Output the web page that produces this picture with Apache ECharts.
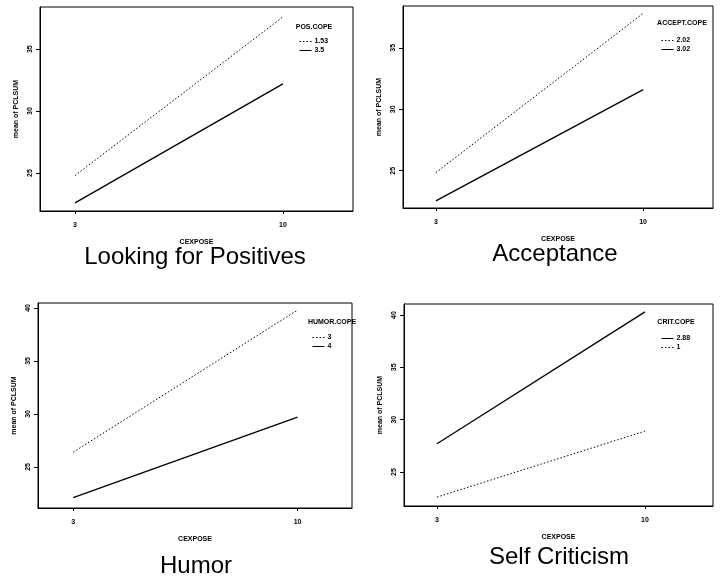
<!DOCTYPE html>
<html>
<head>
<meta charset="UTF-8">
<title>PCLSUM by CEXPOSE and coping</title>
<script src="https://cdn.jsdelivr.net/npm/echarts@6/dist/echarts.min.js"></script>
</head>
<body style="margin:0;background:#fff">
<div id="main" style="width:720px;height:581px;"></div>
<script type="text/javascript">
    // x values (CEXPOSE) shared by all four panels
    var cexpose = [3, 10];
    var titles = ['Looking for Positives', 'Acceptance', 'Humor', 'Self Criticism'];
    var copeNames = ['POS.COPE', 'ACCEPT.COPE', 'HUMOR.COPE', 'CRIT.COPE'];

    var posLevels = ['1.53', '3.5'];
    var posValues = [[24.8, 37.6], [22.6, 32.2]];
    var acceptLevels = ['2.02', '3.02'];
    var acceptValues = [[24.85, 37.8], [22.55, 31.6]];
    var humorLevels = ['3', '4'];
    var humorValues = [[26.4, 39.8], [22.1, 29.7]];
    var critLevels = ['2.88', '1'];
    var critValues = [[27.7, 40.3], [22.6, 28.9]];

    var yTicks = [[25, 30, 35], [25, 30, 35], [25, 30, 35, 40], [25, 30, 35, 40]];

    var levels = [posLevels, acceptLevels, humorLevels, critLevels];
    var values = [posValues, acceptValues, humorValues, critValues];
    var dotted = [[true, false], [true, false], [true, false], [false, true]];

    // panel boxes: left, top, width, height, x range, y range
    var boxes = [
        {l: 40, t: 7, w: 313, h: 204, x: [1.82, 12.36], y: [21.94, 38.4]},
        {l: 403, t: 6, w: 310, h: 202, x: [1.89, 12.36], y: [21.97, 38.4]},
        {l: 38, t: 303, w: 314, h: 205, x: [1.9, 11.7], y: [21.13, 40.47]},
        {l: 404, t: 304, w: 309, h: 202, x: [1.89, 12.29], y: [21.75, 41.05]}
    ];
    var legendPos = [[299, 38], [661, 37], [312, 334], [661, 335]];
    var headPos = [[314, 27], [682, 23], [332, 322], [676, 322]];
    var titlePos = [[195, 257], [555, 254], [196, 566], [559, 557]];

    var small = {fontSize: 7, fontWeight: 'bold', color: '#000', fontFamily: 'Liberation Sans'};

    var grid = [], xAxis = [], yAxis = [], series = [], legend = [], graphic = [];

    boxes.forEach(function (b, i) {
        grid.push({
            left: b.l, top: b.t, width: b.w, height: b.h,
            show: true, borderColor: '#000', borderWidth: 1, backgroundColor: '#fff'
        });
        xAxis.push({
            type: 'value', gridIndex: i, min: b.x[0], max: b.x[1],
            name: 'CEXPOSE', nameLocation: 'middle', nameGap: 28, nameTextStyle: small,
            axisLine: {lineStyle: {color: '#000'}},
            axisTick: {customValues: cexpose, length: 3, lineStyle: {color: '#000'}},
            axisLabel: {customValues: cexpose, margin: 11, fontSize: 7, fontWeight: 'bold', color: '#000'},
            splitLine: {show: false}
        });
        yAxis.push({
            type: 'value', gridIndex: i, min: b.y[0], max: b.y[1],
            name: 'mean of PCLSUM', nameLocation: 'middle', nameGap: 20, nameRotate: 90,
            nameTextStyle: small,
            axisLine: {lineStyle: {color: '#000'}},
            axisTick: {customValues: yTicks[i], length: 4, lineStyle: {color: '#000'}},
            axisLabel: {customValues: yTicks[i], rotate: 90, margin: 6, fontSize: 7, fontWeight: 'bold', color: '#000'},
            splitLine: {show: false}
        });
        levels[i].forEach(function (lv, k) {
            series.push({
                name: lv, type: 'line', xAxisIndex: i, yAxisIndex: i,
                data: cexpose.map(function (x, j) { return [x, values[i][k][j]]; }),
                symbol: 'none', silent: true,
                lineStyle: {color: '#000', width: dotted[i][k] ? 1 : 1.3, type: dotted[i][k] ? [1.5, 2] : 'solid'},
                itemStyle: {color: '#000'}
            });
        });
        legend.push({
            data: levels[i], orient: 'vertical', left: legendPos[i][0], top: legendPos[i][1],
            itemWidth: 12, itemHeight: 6, itemGap: 2, padding: 0, selectedMode: false,
            itemStyle: {opacity: 0},
            lineStyle: {width: 1},
            textStyle: {fontSize: 7, fontWeight: 'bold', color: '#000', padding: [0, 0, 0, -2]}
        });
        graphic.push({
            type: 'text', x: headPos[i][0], y: headPos[i][1],
            style: {text: copeNames[i], font: 'bold 7px "Liberation Sans"', fill: '#000',
                align: 'center', verticalAlign: 'middle'}
        });
        graphic.push({
            type: 'text', x: titlePos[i][0], y: titlePos[i][1],
            style: {text: titles[i], font: '24px "Liberation Sans"', fill: '#000',
                align: 'center', verticalAlign: 'middle'}
        });
    });

    var myChart = echarts.init(document.getElementById('main'));
    myChart.setOption({
        animation: false,
        grid: grid, xAxis: xAxis, yAxis: yAxis,
        legend: legend, series: series, graphic: graphic
    });
</script>
</body>
</html>
